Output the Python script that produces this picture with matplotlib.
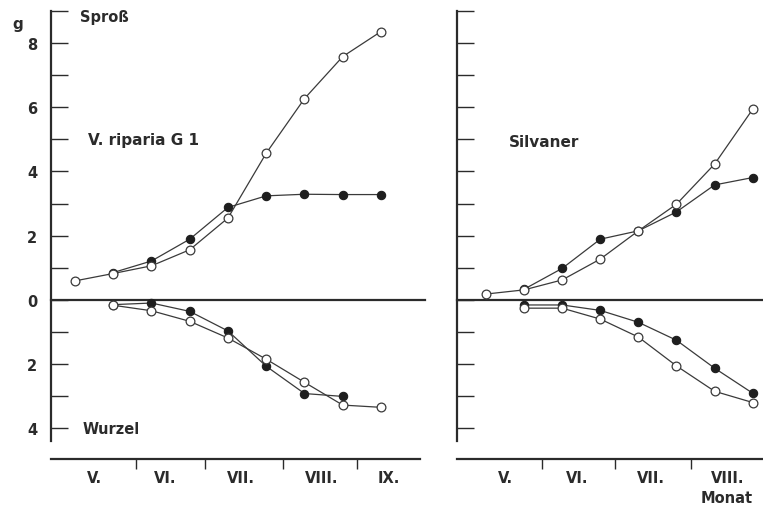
import matplotlib
matplotlib.use("Agg")
import matplotlib.pyplot as plt
from matplotlib.ticker import FixedLocator, FuncFormatter

plt.rcParams['font.family'] = ['DejaVu Sans']

# ---------------- data ----------------
# sample index (roughly fortnightly sampling dates)
left_x = [0, 1, 2, 3, 4, 5, 6, 7, 8]
left_shoot_open = [0.59, 0.82, 1.06, 1.56, 2.55, 4.57, 6.27, 7.58, 8.36]
left_shoot_filled_x = [1, 2, 3, 4, 5, 6, 7, 8]
left_shoot_filled = [0.85, 1.21, 1.89, 2.88, 3.24, 3.29, 3.28, 3.28]
left_root_open_x = [1, 2, 3, 4, 5, 6, 7, 8]
left_root_open = [-0.17, -0.34, -0.67, -1.19, -1.85, -2.57, -3.28, -3.35]
left_root_filled_x = [1, 2, 3, 4, 5, 6, 7]
left_root_filled = [-0.15, -0.10, -0.36, -0.97, -2.07, -2.92, -3.01]
left_month_bounds = [1.6, 3.4, 5.44, 7.37]
left_month_centers = [0.52, 2.35, 4.34, 6.46, 8.2]
left_month_labels = ["V.", "VI.", "VII.", "VIII.", "IX."]

right_x = [0, 1, 2, 3, 4, 5, 6, 7]
right_shoot_open = [0.18, 0.31, 0.62, 1.27, 2.15, 2.98, 4.23, 5.94]
right_shoot_filled_x = [1, 2, 3, 4, 5, 6, 7]
right_shoot_filled = [0.33, 0.98, 1.89, 2.15, 2.74, 3.58, 3.81]
right_root_open_x = [1, 2, 3, 4, 5, 6, 7]
right_root_open = [-0.26, -0.26, -0.60, -1.16, -2.06, -2.85, -3.20]
right_root_filled_x = [1, 2, 3, 4, 5, 6, 7]
right_root_filled = [-0.16, -0.16, -0.33, -0.70, -1.26, -2.13, -2.91]
right_month_bounds = [1.47, 3.39, 5.38]
right_month_centers = [0.5, 2.39, 4.33, 6.33]
right_month_labels = ["V.", "VI.", "VII.", "VIII."]

y_ticks = list(range(-4, 10))
y_label_values = [8, 6, 4, 2, 0, -2, -4]

# ---------------- style ----------------
W, H = 763, 506
INK = "#2b2b2b"
LINE = "#3a3a3a"
FS = 10.5

fig = plt.figure(figsize=(W / 100, H / 100), dpi=100)
fig.patch.set_facecolor("white")

YLIM = (-4.96, 9.02)


def make_axes(rect, xlim, show_labels, zero_right):
    ax = fig.add_axes(rect)
    ax.set_xlim(*xlim)
    ax.set_ylim(*YLIM)
    for s in ("top", "right"):
        ax.spines[s].set_visible(False)
    ax.spines["left"].set_bounds(-4.4, 9.0)
    ax.spines["left"].set_linewidth(1.6)
    ax.spines["left"].set_color(INK)
    ax.spines["bottom"].set_linewidth(1.6)
    ax.spines["bottom"].set_color(INK)
    ax.yaxis.set_major_locator(FixedLocator(y_ticks))
    ax.tick_params(axis="y", direction="in", length=12, width=1.0, color=INK,
                   pad=10, labelsize=FS, labelcolor=INK)
    if show_labels:
        ax.yaxis.set_major_formatter(FuncFormatter(
            lambda v, p: str(abs(int(round(v)))) if int(round(v)) in y_label_values else ""))
        for lab in ax.get_yticklabels():
            lab.set_fontweight("bold")
    else:
        ax.yaxis.set_major_formatter(FuncFormatter(lambda v, p: ""))
    # zero line
    ax.plot([xlim[0], zero_right], [0, 0], color=INK, lw=1.6, clip_on=False, zorder=2)
    return ax


def month_axis(ax, bounds, centers, labels):
    ax.xaxis.set_major_locator(FixedLocator(bounds))
    ax.xaxis.set_major_formatter(FuncFormatter(lambda v, p: ""))
    ax.xaxis.set_minor_locator(FixedLocator(centers))
    ax.xaxis.set_minor_formatter(FuncFormatter(
        lambda v, p: labels[centers.index(min(centers, key=lambda c: abs(c - v)))]))
    ax.tick_params(axis="x", which="major", direction="out", length=7, width=1.0, color=INK)
    ax.tick_params(axis="x", which="minor", length=0, pad=8, labelsize=FS, labelcolor=INK)
    for lab in ax.get_xticklabels(minor=True):
        lab.set_fontweight("bold")


def series(ax, x, y, filled):
    if filled:
        ax.plot(x, y, color=LINE, lw=0.9, marker="o", ms=6.0, mfc="#1e1e1e",
                mec="#1e1e1e", mew=0.8, zorder=3, clip_on=False)
    else:
        ax.plot(x, y, color=LINE, lw=0.9, marker="o", ms=6.3, mfc="white",
                mec=LINE, mew=0.9, zorder=4, clip_on=False)


bottom = (H - 460) / H
height = (460 - 12) / H * (9.02 - YLIM[0]) / (9.0 - YLIM[0])

# left panel
axL = make_axes([51 / W, bottom, (420 - 51) / W, height], (-0.627, 9.02), True, 9.15)
month_axis(axL, left_month_bounds, left_month_centers, left_month_labels)
series(axL, left_shoot_filled_x, left_shoot_filled, True)
series(axL, left_x, left_shoot_open, False)
series(axL, left_root_filled_x, left_root_filled, True)
series(axL, left_root_open_x, left_root_open, False)
axL.text(0.13, 8.84, "Sproß", fontsize=FS, fontweight="bold", color=INK, va="center", ha="left")
axL.text(0.34, 5.0, "V. riparia G 1", fontsize=11, fontweight="bold", color=INK, va="center", ha="left")
axL.text(0.21, -4.0, "Wurzel", fontsize=FS, fontweight="bold", color=INK, va="center", ha="left")
fig.text(12 / W, 1 - 25 / H, "g", fontsize=11, fontweight="bold", color=INK, va="center", ha="left")

# right panel
axR = make_axes([457 / W, bottom, (W - 457) / W, height], (-0.76, 7.27), False, 7.27)
month_axis(axR, right_month_bounds, right_month_centers, right_month_labels)
series(axR, right_shoot_filled_x, right_shoot_filled, True)
series(axR, right_x, right_shoot_open, False)
series(axR, right_root_filled_x, right_root_filled, True)
series(axR, right_root_open_x, right_root_open, False)
axR.text(0.6, 4.94, "Silvaner", fontsize=11, fontweight="bold", color=INK, va="center", ha="left")
axR.text(6.33, -6.15, "Monat", fontsize=FS, fontweight="bold", color=INK, va="center",
         ha="center", clip_on=False)

fig.savefig("out.png", dpi=100, facecolor="white")
